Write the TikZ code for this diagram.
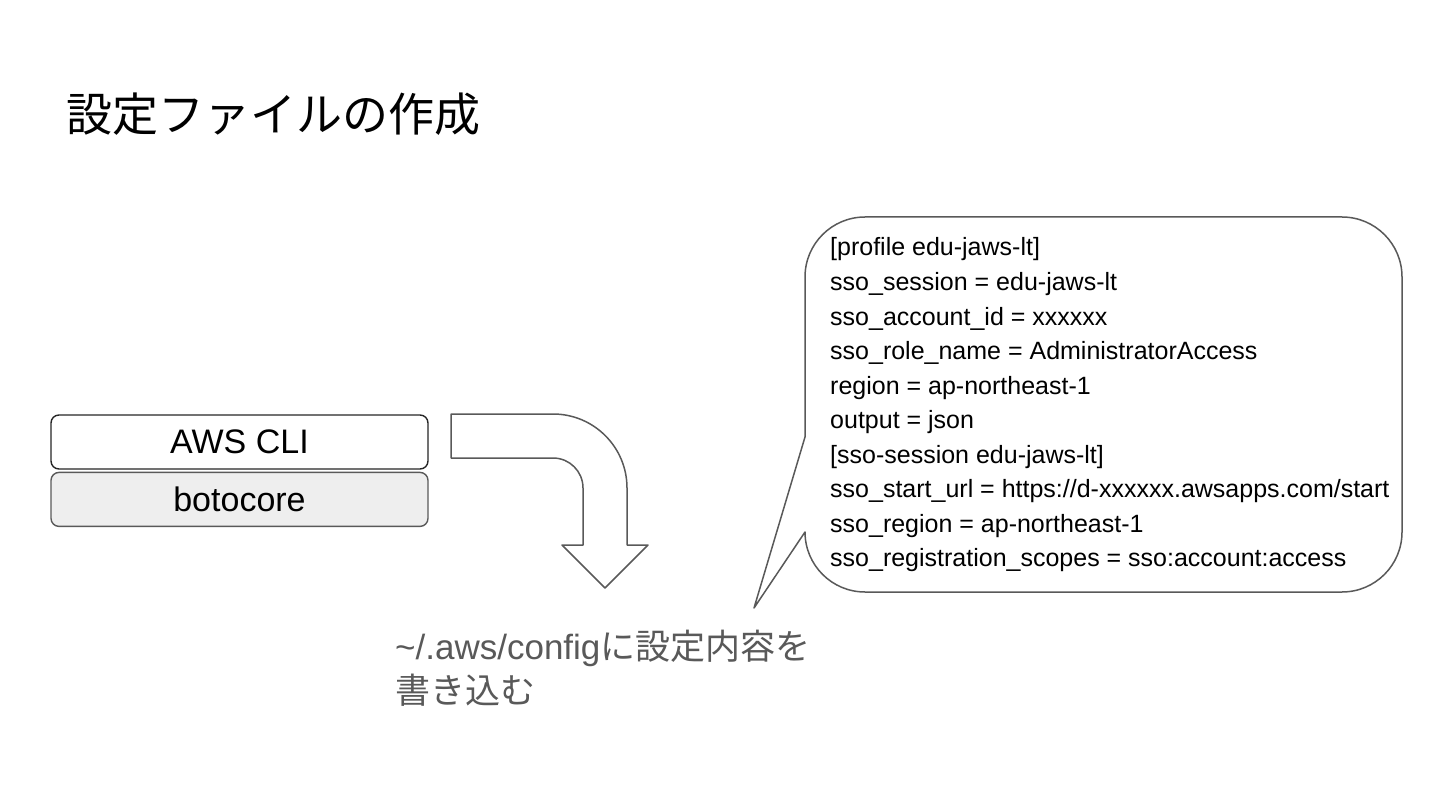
\documentclass[tikz,border=0pt]{standalone}
\usepackage{fontspec}
\setmainfont{Liberation Sans}
\newfontfamily\cjk{Noto Sans CJK JP}
\usepackage{xcolor}
\usetikzlibrary{positioning}

\definecolor{edge}{HTML}{595959}
\definecolor{coregray}{HTML}{EEEEEE}

\tikzset{
    layerbox/.style={draw, rounded corners=8pt, line width=1.4pt, minimum width=377pt, minimum height=54pt,
        inner sep=0pt, font={\fontsize{34}{40}\selectfont}},
    outline/.style={draw=edge, line width=1.5pt, fill=white, line join=round},
    cfgline/.style={anchor=base west, inner sep=0pt, font={\fontsize{25}{30}\selectfont}}
}

\begin{document}
\begin{tikzpicture}[x=1pt, y=-1pt]
        \useasboundingbox (0,0) rectangle (1440,810);

        % Title
        \node[anchor=west, inner sep=0pt, font={\cjk\fontsize{46}{52}\selectfont}] (title) at (66,114) {設定ファイルの作成};

        % CLI stack
        \node[layerbox, draw=black!85, fill=white] (cli) at (239.5,442) {AWS CLI};
        \node[layerbox, draw=edge, fill=coregray, below=2pt of cli] (core) {botocore};

        % Bent arrow
        \draw[outline] (451,414) -- (553,414) arc[start angle=-90, end angle=0, radius=74]
            -- (627,545) -- (648,545) -- (605,588) -- (562,545) -- (583,545)
            -- (583,488) arc[start angle=0, end angle=-90, radius=30] -- (451,458) -- cycle;

        % Callout
        \draw[outline] (754,608) -- (805,532) [rounded corners=60pt] -- (805,592) -- (1402,592) -- (1402,217)
            -- (805,217) [sharp corners] -- (805,437) -- cycle;

        % Config lines
        \foreach \txt [count=\i from 0] in {{[profile edu-jaws-lt]},
                {sso\_session = edu-jaws-lt},
                {sso\_account\_id = xxxxxx},
                {sso\_role\_name = AdministratorAccess},
                {region = ap-northeast-1},
                {output = json},
                {[sso-session edu-jaws-lt]},
                {sso\_start\_url = https://d-xxxxxx.awsapps.com/start},
                {sso\_region = ap-northeast-1},
                {sso\_registration\_scopes = sso:account:access}} {
            \node[cfgline] (line\i) at (830,{256+34.5*\i}) {\txt};
        }

        % Note below the arrow
        \node[anchor=north west, inner sep=0pt, align=left, text=edge, font={\fontsize{35}{44}\selectfont}] (note) at (395,630)
            {\textasciitilde/.aws/config{\cjk に設定内容を}\\{\cjk 書き込む}};
    \end{tikzpicture}
\end{document}
